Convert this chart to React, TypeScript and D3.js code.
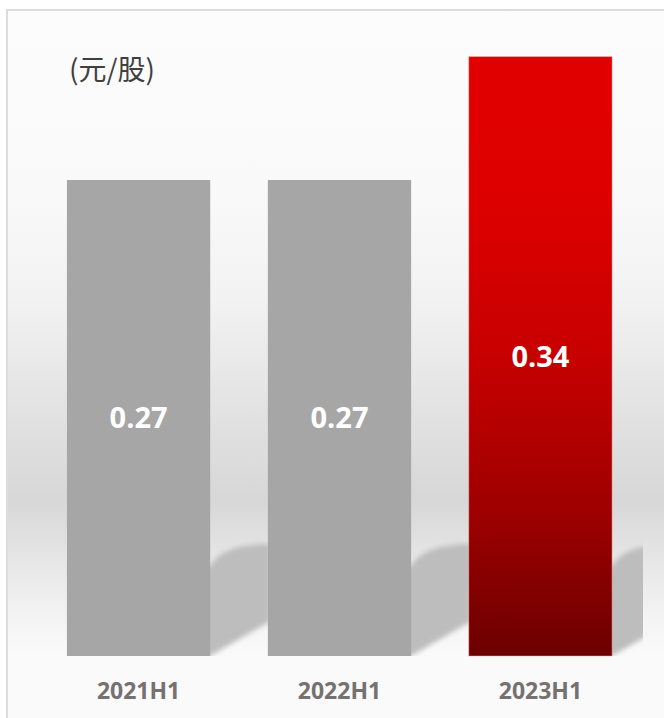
import { useMemo } from "react";
import { scaleBand, scaleLinear } from "d3";

const categories = ["2021H1", "2022H1", "2023H1"];
const values = [0.27, 0.27, 0.34];
const highlightCategory = "2023H1";
const unitLabel = "(元/股)";
const valueMax = 0.35;

const W = 664;
const H = 718;
const plot = { left: 38, right: 641, top: 39, bottom: 656 };

export default function App() {
  const chart = useMemo(() => {
    const x = scaleBand<string>()
      .domain(categories)
      .range([plot.left, plot.right])
      .paddingInner(0.287)
      .paddingOuter(0.144);
    const y = scaleLinear().domain([0, valueMax]).range([plot.bottom, plot.top]);
    const bars = categories.map((c, i) => ({
      category: c,
      value: values[i],
      x: x(c) ?? 0,
      y: y(values[i]),
      w: x.bandwidth(),
      h: y(0) - y(values[i]),
    }));
    return { x, y, bars, base: y(0) };
  }, []);

  const { bars, base } = chart;

  // perspective shadow cast up-right from each bar foot
  const shadowPath = (bx: number, bw: number) => {
    const r = bx + bw;
    const d = 60;
    return [
      `M${r - 12},${base}`,
      `L${r},${base}`,
      `L${r + d},${base - d * 0.58}`,
      `L${r + d},${base - 112}`,
      `Q${r + 12},${base - 112} ${r},${base - 90}`,
      `L${r - 12},${base - 90}`,
      "Z",
    ].join(" ");
  };

  return (
    <svg
      width={W}
      height={H}
      viewBox={`0 0 ${W} ${H}`}
      style={{ position: "absolute", left: 0, top: 0 }}
    >
      <defs>
        <linearGradient id="bg" gradientUnits="userSpaceOnUse" x1="0" x2="0" y1="10" y2="718">
          <stop offset={0 / 708} stopColor="#fcfcfc" />
          <stop offset={190 / 708} stopColor="#f9f9f9" />
          <stop offset={290 / 708} stopColor="#f2f2f2" />
          <stop offset={390 / 708} stopColor="#e4e4e4" />
          <stop offset={490 / 708} stopColor="#d7d7d7" />
          <stop offset={550 / 708} stopColor="#e6e6e6" />
          <stop offset={610 / 708} stopColor="#f4f4f4" />
          <stop offset={645 / 708} stopColor="#fafafa" />
          <stop offset={1} stopColor="#fafafa" />
        </linearGradient>
        <linearGradient id="redBar" x1="0" x2="0" y1="0" y2="1">
          <stop offset="0" stopColor="#e20000" />
          <stop offset="0.25" stopColor="#dd0000" />
          <stop offset="0.5" stopColor="#c70000" />
          <stop offset="0.77" stopColor="#9c0000" />
          <stop offset="1" stopColor="#6c0000" />
        </linearGradient>
        <filter id="blur" x="-20%" y="-20%" width="140%" height="140%">
          <feGaussianBlur stdDeviation="2.5" />
        </filter>
        <clipPath id="plotClip">
          <rect x={plot.left} y={0} width={643 - plot.left} height={base} />
        </clipPath>
      </defs>

      <rect x={0} y={0} width={W} height={H} fill="#ffffff" />
      <rect
        x={7}
        y={10}
        width={W + 20}
        height={H + 20}
        fill="url(#bg)"
        stroke="#dcdcdc"
        strokeWidth={2}
      />

      <g clipPath="url(#plotClip)">
        {bars.map((b) => (
          <path
            key={`s-${b.category}`}
            d={shadowPath(b.x, b.w)}
            fill="#bdbdbd"
            filter="url(#blur)"
          />
        ))}
      </g>

      {bars.map((b) => {
        const hi = b.category === highlightCategory;
        return (
          <g key={b.category}>
            <rect
              x={b.x}
              y={b.y}
              width={b.w}
              height={b.h}
              fill={hi ? "url(#redBar)" : "#a6a6a6"}
              stroke={hi ? "#f2a0a0" : "none"}
              strokeWidth={hi ? 0.8 : 0}
              strokeOpacity={0.6}
            />
            <text
              x={b.x + b.w / 2}
              y={b.y + b.h / 2}
              dy="0.36em"
              textAnchor="middle"
              fill="#ffffff"
              fontFamily="'Open Sans', 'Noto Sans', sans-serif"
              fontWeight="bold"
              fontSize={29}
            >
              {b.value.toFixed(2)}
            </text>
            <text
              x={b.x + b.w / 2}
              y={691}
              dy="0.36em"
              textAnchor="middle"
              fill="#767171"
              fontFamily="'Open Sans', 'Noto Sans', sans-serif"
              fontWeight="bold"
              fontSize={23}
            >
              {b.category}
            </text>
          </g>
        );
      })}

      <text
        x={69}
        y={70}
        dy="0.36em"
        fill="#404040"
        fontFamily="'Noto Sans CJK SC', 'Noto Sans', sans-serif"
        fontSize={28}
      >
        {unitLabel}
      </text>
    </svg>
  );
}
